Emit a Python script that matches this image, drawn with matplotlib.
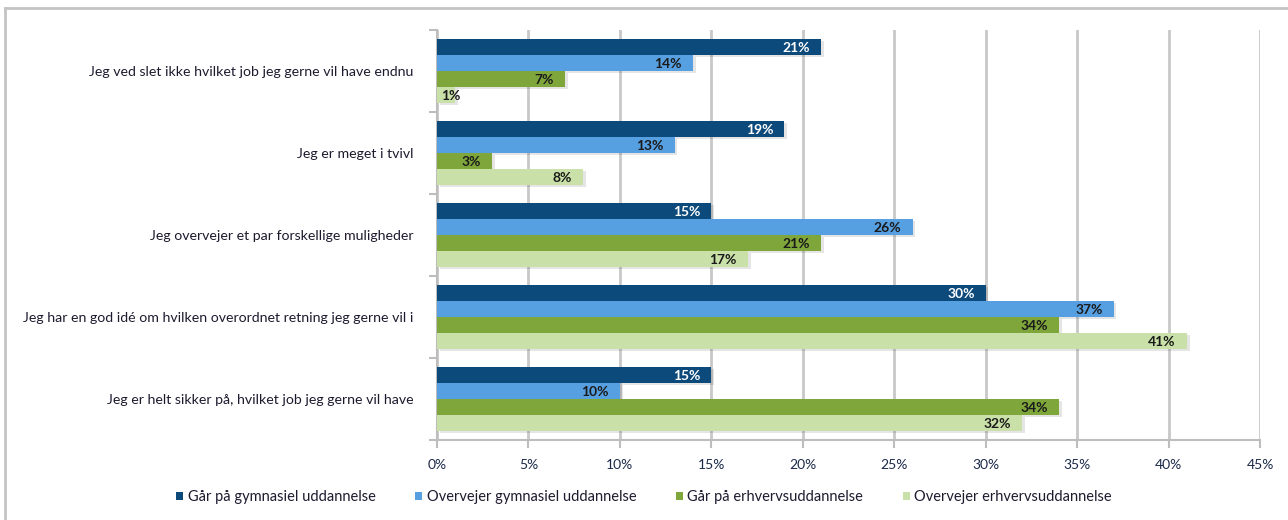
import matplotlib
matplotlib.use("Agg")
import matplotlib.pyplot as plt
from matplotlib.lines import Line2D
from matplotlib.patches import Patch
import numpy as np

categories = [
    "Jeg ved slet ikke hvilket job jeg gerne vil have endnu",
    "Jeg er meget i tvivl",
    "Jeg overvejer et par forskellige muligheder",
    "Jeg har en god idé om hvilken overordnet retning jeg gerne vil i",
    "Jeg er helt sikker på, hvilket job jeg gerne vil have",
]
series_names = [
    "Går på gymnasiel uddannelse",
    "Overvejer gymnasiel uddannelse",
    "Går på erhvervsuddannelse",
    "Overvejer erhvervsuddannelse",
]
gym_gaar = [21, 19, 15, 30, 15]
gym_overvejer = [14, 13, 26, 37, 10]
erhv_gaar = [7, 3, 21, 34, 34]
erhv_overvejer = [1, 8, 17, 41, 32]
xticks = [0, 5, 10, 15, 20, 25, 30, 35, 40, 45]

series = [gym_gaar, gym_overvejer, erhv_gaar, erhv_overvejer]
colors = ["#0D4A7C", "#56A0E2", "#7EA63B", "#C9E1A8"]
label_colors = ["white", "#1a1a1a", "#1a1a1a", "#1a1a1a"]

plt.rcParams['font.family'] = ['Lato', 'DejaVu Sans']

fig = plt.figure(figsize=(12.88, 5.2), dpi=100)
W, H = 1288, 520
ax = fig.add_axes([437 / W, 1 - 440 / H, (1260 - 437) / W, (440 - 30) / H])

# outer frame
fig.add_artist(Line2D([5 / W, 5 / W], [0, 1 - 8 / H], transform=fig.transFigure,
                      color="#c4c4c4", lw=2))
fig.add_artist(Line2D([5 / W, 1], [1 - 8 / H, 1 - 8 / H], transform=fig.transFigure,
                      color="#c4c4c4", lw=2))

n = len(categories)
h = 0.195
ypos = np.arange(n)
for k, (vals, c) in enumerate(zip(series, colors)):
    offs = (k - 1.5) * h
    y = ypos + offs
    # subtle shadow
    ax.barh(y + 0.02, vals, height=h, left=0.15, color="#000000", alpha=0.10,
            zorder=2, linewidth=0)
    ax.barh(y, vals, height=h, color=c, zorder=3, linewidth=0)
    for yi, v in zip(y, vals):
        if v >= 3:
            ax.text(v - 0.6, yi + 0.015, f"{v}%", ha="right", va="center",
                    fontsize=10, fontweight="bold", color=label_colors[k], zorder=4)
        else:
            ax.text(0.2, yi + 0.015, f"{v}%", ha="left", va="center",
                    fontsize=10, fontweight="bold", color=label_colors[k], zorder=4)

ax.set_xlim(0, 45)
ax.set_ylim(n - 0.5, -0.5)
ax.set_xticks(xticks)
ax.set_xticklabels([f"{t}%" for t in xticks], fontsize=10, color="#1b2a4a")
ax.set_yticks(ypos)
ax.set_yticklabels(categories, fontsize=10.2, color="#1f1a2e")
ax.tick_params(axis="y", length=0, pad=17)
ax.set_yticks(np.arange(n + 1) - 0.5, minor=True)
ax.tick_params(axis="y", which="minor", length=6, color="#bdbdbd", width=1.5)
ax.tick_params(axis="x", length=6, color="#bdbdbd", width=1.5, pad=8)
ax.grid(axis="x", color="#c8c8c8", lw=2, zorder=0)
ax.set_axisbelow(True)
for s in ["top", "right"]:
    ax.spines[s].set_visible(False)
for s in ["left", "bottom"]:
    ax.spines[s].set_color("#bdbdbd")
    ax.spines[s].set_linewidth(1.5)

handles = [Patch(facecolor=c, edgecolor="none") for c in colors]
fig.legend(handles, series_names, loc="center", bbox_to_anchor=(0.5, 1 - 497 / H),
           ncol=4, frameon=False, fontsize=10.5, handlelength=0.5, handleheight=0.5,
           handletextpad=0.3, columnspacing=2.7, labelcolor="#1f1a2e")

fig.savefig("out.png", dpi=100)
